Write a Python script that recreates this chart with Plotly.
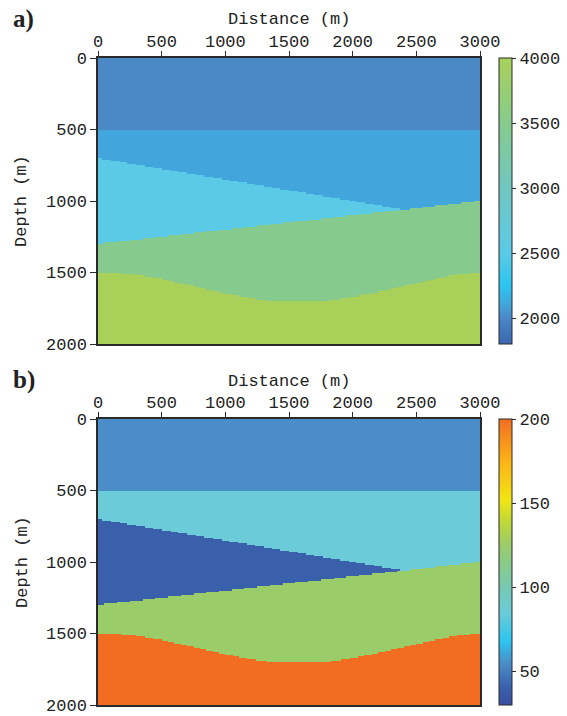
import numpy as np
import plotly.graph_objects as go

# ---------------- data ----------------
distance_ticks = [0, 500, 1000, 1500, 2000, 2500, 3000]
depth_ticks = [0, 500, 1000, 1500, 2000]

# layer boundaries (distance m -> depth m)
b1_x = [0, 3000]
b1_z = [500, 500]
b2_x = [0, 3000]
b2_z = [700, 1150]
b3_x = [0, 3000]
b3_z = [1300, 1000]
b4_x = [0, 150, 300, 500, 750, 1000, 1200, 1350, 1550, 1800, 1950, 2150, 2400, 2650, 2850, 3000]
b4_z = [1500, 1502, 1515, 1545, 1595, 1645, 1680, 1698, 1700, 1697, 1680, 1645, 1595, 1545, 1510, 1500]

# layer properties (top to bottom: layer1, layer2, wedge, layer4, layer5)
velocity = [2000, 2100, 2500, 3500, 4000]
q_factor = [55, 85, 40, 125, 200]

vel_range = [1800, 4000]
vel_ticks = [2000, 2500, 3000, 3500, 4000]
q_range = [30, 200]
q_ticks = [50, 100, 150, 200]

vel_stops = [1800, 2000, 2100, 2250, 2500, 3000, 3500, 4000]
vel_colors = ["#3a66ae", "#4a88c6", "#42a5db", "#2cc5f0", "#5bcae6", "#71c7c0", "#86cb8d", "#a9d15a"]
q_stops = [30, 40, 55, 68, 85, 100, 125, 140, 152, 175, 200]
q_colors = ["#3a4ea0", "#3a5fab", "#4a8dc8", "#2dc5f0", "#6bcbd8", "#76c9b2", "#9bcc6a",
            "#c2d934", "#f2e515", "#fbb317", "#f26d22"]

# ---------------- model grid ----------------
dx = 10
xs = np.arange(dx / 2, 3000, dx)
zs = np.arange(dx / 2, 2000, dx)
X, Z = np.meshgrid(xs, zs)
B1 = np.interp(X, b1_x, b1_z)
B2 = np.interp(X, b2_x, b2_z)
B3 = np.interp(X, b3_x, b3_z)
B4 = np.interp(X, b4_x, b4_z)

layer = np.full(X.shape, 4)
layer[Z < B4] = 3
layer[Z < B3] = 2
layer[(Z < B2) & (Z < B3)] = 1
layer[Z < B1] = 0

vel_grid = np.array(velocity)[layer]
q_grid = np.array(q_factor)[layer]


def cscale(stops, colors, rng):
    return [[(s - rng[0]) / (rng[1] - rng[0]), c] for s, c in zip(stops, colors)]


W, H = 567, 716
L, R, T, B = 98, 480, 58, 705      # plot-area pixel bounds
PW, PH = R - L, B - T
FONT = "Liberation Mono"
DARK = "#2a2a2a"


def px(x):
    return (x - L) / PW


def py(y):
    return (B - y) / PH


TOP_A, BOT_A = 58, 344
TOP_B, BOT_B = 419, 705
ydom_a = [py(BOT_A), py(TOP_A)]
ydom_b = [py(BOT_B), py(TOP_B)]

fig = go.Figure()


def add_panel(z, stops, colors, rng, ticks, xa, ya, ydom):
    fig.add_trace(go.Heatmap(
        x=xs, y=zs, z=z, zmin=rng[0], zmax=rng[1],
        colorscale=cscale(stops, colors, rng), zsmooth=False,
        xaxis=xa, yaxis=ya, hoverinfo="skip",
        colorbar=dict(
            x=px(499), xanchor="left", xpad=0, ypad=0,
            y=(ydom[0] + ydom[1]) / 2, yanchor="middle",
            len=(ydom[1] - ydom[0]), lenmode="fraction",
            thickness=13, outlinecolor=DARK, outlinewidth=1,
            tickvals=ticks, ticks="outside", ticklen=4, tickcolor=DARK,
            tickfont=dict(family=FONT, size=17, color="#222"),
        ),
    ))


add_panel(vel_grid, vel_stops, vel_colors, vel_range, vel_ticks, "x", "y", ydom_a)
add_panel(q_grid, q_stops, q_colors, q_range, q_ticks, "x2", "y2", ydom_b)

xaxis_common = dict(
    range=[0, 3000], side="top", tickvals=distance_ticks, ticks="outside",
    ticklen=5, tickcolor=DARK, showline=True, linecolor=DARK, linewidth=1.5,
    mirror=True, showgrid=False, zeroline=False, ticklabelstandoff=-3,
    ticklabeloverflow="allow",
    tickfont=dict(family=FONT, size=17, color="#222"),
)
yaxis_common = dict(
    range=[2000, 0], tickvals=depth_ticks, ticks="outside",
    ticklen=6, tickcolor=DARK, showline=True, linecolor=DARK, linewidth=1.5,
    mirror=True, showgrid=False, zeroline=False, ticklabeloverflow="allow",
    tickfont=dict(family=FONT, size=17, color="#222"),
)

fig.update_layout(
    width=W, height=H,
    margin=dict(l=L, r=W - R, t=T, b=H - B, autoexpand=False),
    paper_bgcolor="white", plot_bgcolor="white",
    xaxis=dict(domain=[0, 1], anchor="y", **xaxis_common),
    yaxis=dict(domain=ydom_a, anchor="x", **yaxis_common),
    xaxis2=dict(domain=[0, 1], anchor="y2", **xaxis_common),
    yaxis2=dict(domain=ydom_b, anchor="x2", **yaxis_common),
    showlegend=False,
)

annotations = []
for label, top in (("a)", TOP_A), ("b)", TOP_B)):
    annotations.append(dict(text="<b>" + label + "</b>", x=px(11), y=py(top - 39),
                            xref="paper", yref="paper", xanchor="left", yanchor="middle",
                            showarrow=False, font=dict(family="Liberation Serif", size=25, color="#222")))
    annotations.append(dict(text="Distance (m)", x=px((L + R) / 2), y=py(top - 38),
                            xref="paper", yref="paper", xanchor="center", yanchor="middle",
                            showarrow=False, font=dict(family=FONT, size=17, color="#222")))
    annotations.append(dict(text="Depth (m)", x=px(22), y=py(top + 143),
                            xref="paper", yref="paper", xanchor="center", yanchor="middle",
                            textangle=-90, showarrow=False,
                            font=dict(family=FONT, size=17, color="#222")))
fig.update_layout(annotations=annotations)

fig.write_html("out.html")
